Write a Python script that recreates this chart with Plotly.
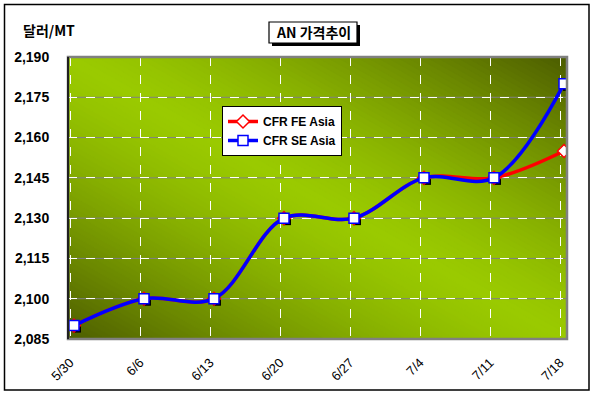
import numpy as np
import plotly.graph_objects as go

# ---- data ----
dates = ["5/30", "6/6", "6/13", "6/20", "6/27", "7/4", "7/11", "7/18"]
cfr_fe_asia = [2090, 2100, 2100, 2130, 2130, 2145, 2145, 2155]
cfr_se_asia = [2090, 2100, 2100, 2130, 2130, 2145, 2145, 2180]
y_ticks = [2085, 2100, 2115, 2130, 2145, 2160, 2175, 2190]

W, H = 595, 399
L, R, T, B = 68, 567, 57, 339  # plot area in pixels
PW, PH = R - L, B - T

def px(xp):
    return (xp - L) / PW

def py(yp):
    return (B - yp) / PH

FONT = "Liberation Sans, Arial, Noto Sans CJK KR, sans-serif"
KFONT = "Noto Sans CJK KR, Liberation Sans, sans-serif"

idx = np.arange(len(dates))
xoff = 4 / 70.0  # points sit slightly right of the grid lines
xpts = idx + xoff

fig = go.Figure()

# marker drop shadows
ysh = 3 * 105 / PH
fig.add_trace(go.Scatter(
    x=xpts + 3 / 70.0, y=np.array(cfr_se_asia) - ysh, mode="markers",
    marker=dict(symbol="square", size=8, color="black"),
    showlegend=False, hoverinfo="skip"))

fig.add_trace(go.Scatter(
    x=xpts, y=cfr_fe_asia, name="CFR FE Asia", mode="lines+markers",
    line=dict(color="#ff0000", width=3.5, shape="spline", smoothing=1.0),
    marker=dict(symbol="diamond", size=10, color="white",
                line=dict(color="#ff0000", width=1.5))))
fig.add_trace(go.Scatter(
    x=xpts, y=cfr_se_asia, name="CFR SE Asia", mode="lines+markers",
    line=dict(color="#0000ff", width=3.5, shape="spline", smoothing=1.0),
    marker=dict(symbol="square", size=10, color="white",
                line=dict(color="#0000ff", width=1.5))))

# ---- gradient background (bands along u+v) ----
def clip(poly, a, b, c):
    out = []
    n = len(poly)
    for i in range(n):
        p, q = poly[i], poly[(i + 1) % n]
        fp = a * p[0] + b * p[1] + c
        fq = a * q[0] + b * q[1] + c
        if fp >= 0:
            out.append(p)
        if (fp >= 0) != (fq >= 0):
            t = fp / (fp - fq)
            out.append((p[0] + t * (q[0] - p[0]), p[1] + t * (q[1] - p[1])))
    return out

bright = np.array([0x9a, 0xca, 0x00])
dark = np.array([0x4c, 0x5c, 0x00])
shapes = []
nb = 100
edges = np.linspace(0, 2, nb + 1)
for k in range(nb):
    s1, s2 = edges[k], edges[k + 1]
    sm = 0.5 * (s1 + s2)
    tt = min(1.0, abs(sm - 1.0))
    f = tt ** 1.4
    col = bright * (1 - f) + dark * f
    colstr = "rgb(%d,%d,%d)" % tuple(col.round().astype(int))
    poly = [(0, 0), (1, 0), (1, 1), (0, 1)]
    poly = clip(poly, 1, 1, -s1 + 0.002)
    poly = clip(poly, -1, -1, s2 + 0.002)
    if len(poly) < 3:
        continue
    path = "M " + " L ".join("%.5f,%.5f" % (p[0], p[1]) for p in poly) + " Z"
    shapes.append(dict(type="path", path=path, xref="x domain", yref="y domain",
                       fillcolor=colstr, line=dict(color=colstr, width=1),
                       layer="below"))

# gray solid lines beneath white dashed horizontal gridlines
for yv in y_ticks[1:-1]:
    shapes.append(dict(type="line", xref="x domain", yref="y", x0=0, x1=1,
                       y0=yv, y1=yv, line=dict(color="#808080", width=1),
                       layer="below"))

# plot area border: gray top/right/bottom
shapes.append(dict(type="rect", xref="paper", yref="paper", x0=0, x1=1, y0=0, y1=1,
                   line=dict(color="#808080", width=2.5), layer="above"))
# left axis black
shapes.append(dict(type="line", xref="paper", yref="paper", x0=0, x1=0, y0=0, y1=1,
                   line=dict(color="black", width=1.5), layer="above"))

# outer chart border
shapes.append(dict(type="rect", xref="paper", yref="paper",
                   x0=px(4.5), x1=px(589), y0=py(390), y1=py(4.5),
                   line=dict(color="black", width=1.5), layer="above"))

# title box with shadow
shapes.append(dict(type="rect", xref="paper", yref="paper",
                   x0=px(272), x1=px(360), y0=py(46), y1=py(25),
                   fillcolor="black", line=dict(width=0), layer="above"))
shapes.append(dict(type="rect", xref="paper", yref="paper",
                   x0=px(269), x1=px(357), y0=py(43), y1=py(22),
                   fillcolor="white", line=dict(color="black", width=1.2), layer="above"))

annotations = [
    dict(text="<b>AN 가격추이</b>", xref="paper", yref="paper",
         x=px(313), y=py(32.5), xanchor="center", yanchor="middle",
         showarrow=False, font=dict(family=KFONT, size=14, color="black")),
    dict(text="<b>달러/MT</b>", xref="paper", yref="paper",
         x=px(21), y=py(30), xanchor="left", yanchor="middle",
         showarrow=False, font=dict(family=KFONT, size=14, color="black")),
]

fig.update_layout(
    width=W, height=H,
    margin=dict(l=L, r=W - R, t=T, b=H - B, pad=0, autoexpand=False),
    paper_bgcolor="white", plot_bgcolor="#9acb00",
    shapes=shapes, annotations=annotations,
    showlegend=True,
    legend=dict(x=px(222), y=py(106), xanchor="left", yanchor="top",
                bgcolor="white", bordercolor="black", borderwidth=1,
                font=dict(family=FONT, size=12, color="black", weight="bold"),
                tracegroupgap=0, itemwidth=30),
    font=dict(family=FONT, color="black"),
)

fig.update_xaxes(
    range=[-2 / 70.0, 497 / 70.0], tickvals=idx, ticktext=dates,
    tickangle=-45, tickfont=dict(family=FONT, size=13, color="black"),
    showgrid=True, gridcolor="white", griddash="dash", gridwidth=1,
    zeroline=False, showline=False, ticks="outside", ticklen=10,
    tickcolor="rgba(0,0,0,0)", fixedrange=True, automargin=False,
)
fig.update_yaxes(
    range=[2085, 2190], tickvals=y_ticks, tickformat=",",
    tickfont=dict(family=FONT, size=14, color="black", weight="bold"),
    showgrid=True, gridcolor="white", griddash="dash", gridwidth=1,
    zeroline=False, showline=False, ticks="outside", ticklen=15,
    tickcolor="rgba(0,0,0,0)", fixedrange=True, automargin=False,
)

fig.write_html(
    "out.html",
    config={"displayModeBar": False},
    post_script="document.body.style.margin='0';document.body.style.overflow='hidden';",
)
